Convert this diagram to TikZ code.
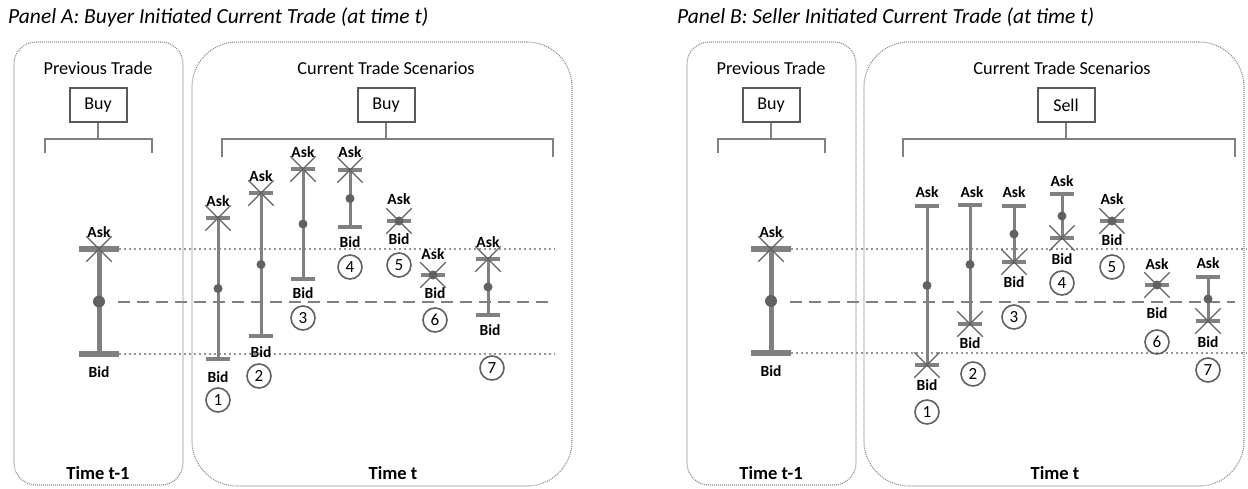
\documentclass[tikz,border=0pt]{standalone}
\usepackage{fontspec}
\setmainfont{Carlito}
\usetikzlibrary{shapes.misc, backgrounds}

\begin{document}
\begin{tikzpicture}[x=1pt, y=-1pt,
    ttl/.style     ={anchor=west, inner sep=0, font=\itshape\fontsize{21.5}{25}\selectfont},
    head/.style    ={inner sep=0, font=\fontsize{18.3}{21}\selectfont},
    timelbl/.style ={inner sep=0, font=\bfseries\fontsize{18.5}{22}\selectfont},
    panel/.style   ={draw=black!45, dash pattern=on 1pt off 1pt, line width=1.1pt,
                     rounded corners=22pt, inner sep=0},
    tradebox/.style={draw=black!65, line width=2pt, minimum width=57, minimum height=34,
                     inner sep=0, font=\fontsize{18}{21}\selectfont},
    brk/.style     ={draw=black!50, line width=2.5pt},
    tick/.style    ={rectangle, fill=black!50, minimum width=24, minimum height=4, inner sep=0},
    ptick/.style   ={tick, minimum width=40, minimum height=5.5},
    bar/.style     ={draw=black!50, line width=3pt},
    pbar/.style    ={bar, line width=5pt},
    dot/.style     ={circle, fill=black!62, minimum size=9, inner sep=0},
    pdot/.style    ={dot, minimum size=12},
    xmark/.style   ={cross out, draw=black!62, line width=1.3pt, minimum size=24, inner sep=0},
    lbl/.style     ={inner sep=0, font=\bfseries\fontsize{15.5}{18}\selectfont},
    num/.style     ={circle, draw=black!62, line width=1.6pt, minimum size=24, inner sep=0,
                     font=\fontsize{17}{20}\selectfont},
    level/.style   ={draw=black!42, line width=2pt, dash pattern=on 2pt off 3pt},
    mid/.style     ={draw=black!50, line width=2.5pt, dash pattern=on 12pt off 7pt}
]
\useasboundingbox (0,0) rectangle (1248,489);

%% ── Panel A: frames and headings ─────────────────────────────────
\node[ttl] (atitle) at (8,17) {Panel A: Buyer Initiated Current Trade (at time t)};
\node[panel, minimum width=169, minimum height=443] (aprev) at (98.5,263.5) {};
\node[panel, rounded corners=45pt, minimum width=380, minimum height=444] (acur) at (382,264) {};

\node[head]     (aprevhd)  at (98,68)   {Previous Trade};
\node[tradebox] (aprevbuy) at (98,105)  {Buy};
\node[timelbl]  (aprevtm)  at (98,473)  {Time t-1};
\coordinate (aprevL) at (45,153);
\coordinate (aprevR) at (152,153);
\draw[brk] (aprevbuy.south) -- ++(0,17);
\draw[brk] (aprevL) -- ++(0,-14) -| (aprevR);

\node[head]     (acurhd)   at (386,68)  {Current Trade Scenarios};
\node[tradebox] (acurbuy)  at (386,105) {Buy};
\node[timelbl]  (acurtm)   at (393,473) {Time t};
\coordinate (acurL) at (222,157);
\coordinate (acurR) at (553,157);
\draw[brk] (acurbuy.south) -- ++(0,17);
\draw[brk] (acurL) -- ++(0,-18) -| (acurR);

%% ── Panel A: previous quote ──────────────────────────────────────
\node[ptick] (aphi) at (99,249) {};
\node[ptick] (aplo) at (99,354) {};
\draw[pbar] (aphi) -- node[pdot] (apdot) {} (aplo);
\node[xmark] (apx)   at (aphi)     {};
\node[lbl]   (apask) at (99,232)   {Ask};
\node[lbl]   (apbid) at (99,372)   {Bid};

%% ── Panel A: scenarios 1-7 ───────────────────────────────────────
\node[tick] (a1hi) at (218,218) {};
\node[tick] (a1lo) at (218,359) {};
\draw[bar] (a1hi) -- node[dot] (a1dot) {} (a1lo);
\node[xmark] (a1x) at (a1hi) {};
\node[lbl] (a1ask) at (218,201) {Ask};
\node[lbl] (a1bid) at (218,377) {Bid};
\node[num] (a1n)   at (218,400) {1};

\node[tick] (a2hi) at (261,193) {};
\node[tick] (a2lo) at (261,336) {};
\draw[bar] (a2hi) -- node[dot] (a2dot) {} (a2lo);
\node[xmark] (a2x) at (a2hi) {};
\node[lbl] (a2ask) at (261,176) {Ask};
\node[lbl] (a2bid) at (261,352) {Bid};
\node[num] (a2n)   at (259,376) {2};

\node[tick] (a3hi) at (303,169) {};
\node[tick] (a3lo) at (303,279) {};
\draw[bar] (a3hi) -- node[dot] (a3dot) {} (a3lo);
\node[xmark] (a3x) at (a3hi) {};
\node[lbl] (a3ask) at (303,152) {Ask};
\node[lbl] (a3bid) at (303,293) {Bid};
\node[num] (a3n)   at (303,318) {3};

\node[tick] (a4hi) at (350,170) {};
\node[tick] (a4lo) at (350,227) {};
\draw[bar] (a4hi) -- node[dot] (a4dot) {} (a4lo);
\node[xmark] (a4x) at (a4hi) {};
\node[lbl] (a4ask) at (350,152) {Ask};
\node[lbl] (a4bid) at (350,242) {Bid};
\node[num] (a4n)   at (350,267) {4};

\node[tick] (a5hi) at (399,221) {};
\node[xmark] (a5x) at (a5hi) {};
\node[dot] (a5dot) at (a5hi) {};
\node[lbl] (a5ask) at (399,199) {Ask};
\node[lbl] (a5bid) at (399,239) {Bid};
\node[num] (a5n)   at (399,265) {5};

\node[tick] (a6hi) at (433,275) {};
\node[xmark] (a6x) at (a6hi) {};
\node[dot] (a6dot) at (a6hi) {};
\node[lbl] (a6ask) at (433,254) {Ask};
\node[lbl] (a6bid) at (435,293) {Bid};
\node[num] (a6n)   at (435,320) {6};

\node[tick] (a7hi) at (488,259) {};
\node[tick] (a7lo) at (488,315) {};
\draw[bar] (a7hi) -- node[dot] (a7dot) {} (a7lo);
\node[xmark] (a7x) at (a7hi) {};
\node[lbl] (a7ask) at (488,242) {Ask};
\node[lbl] (a7bid) at (490,330) {Bid};
\node[num] (a7n)   at (492,368) {7};

%% ── Panel B: frames and headings ─────────────────────────────────
\node[ttl] (btitle) at (677,17) {Panel B: Seller Initiated Current Trade (at time t)};
\node[panel, minimum width=169, minimum height=443] (bprev) at (771.5,263.5) {};
\node[panel, rounded corners=45pt, minimum width=380, minimum height=444] (bcur) at (1054,264) {};

\node[head]     (bprevhd)  at (771,68)   {Previous Trade};
\node[tradebox] (bprevbuy) at (771,105)  {Buy};
\node[timelbl]  (bprevtm)  at (771,473)  {Time t-1};
\coordinate (bprevL) at (718,153);
\coordinate (bprevR) at (825,153);
\draw[brk] (bprevbuy.south) -- ++(0,17);
\draw[brk] (bprevL) -- ++(0,-14) -| (bprevR);

\node[head]     (bcurhd)   at (1062,68)  {Current Trade Scenarios};
\node[tradebox] (bcursell) at (1066,105) {Sell};
\node[timelbl]  (bcurtm)   at (1055,473) {Time t};
\coordinate (bcurL) at (903,157);
\coordinate (bcurR) at (1235,157);
\draw[brk] (bcursell.south) -- ++(0,17);
\draw[brk] (bcurL) -- ++(0,-18) -| (bcurR);

%% ── Panel B: previous quote ──────────────────────────────────────
\node[ptick] (bphi) at (771,249) {};
\node[ptick] (bplo) at (771,353) {};
\draw[pbar] (bphi) -- node[pdot] (bpdot) {} (bplo);
\node[xmark] (bpx)   at (bphi)     {};
\node[lbl]   (bpask) at (771,232)  {Ask};
\node[lbl]   (bpbid) at (771,371)  {Bid};

%% ── Panel B: scenarios 1-7 ───────────────────────────────────────
\node[tick] (b1hi) at (927,206) {};
\node[tick] (b1lo) at (927,365) {};
\draw[bar] (b1hi) -- node[dot] (b1dot) {} (b1lo);
\node[xmark] (b1x) at (b1lo) {};
\node[lbl] (b1ask) at (927,192) {Ask};
\node[lbl] (b1bid) at (927,385) {Bid};
\node[num] (b1n)   at (927,412) {1};

\node[tick] (b2hi) at (970,205) {};
\node[tick] (b2lo) at (970,324) {};
\draw[bar] (b2hi) -- node[dot] (b2dot) {} (b2lo);
\node[xmark] (b2x) at (b2lo) {};
\node[lbl] (b2ask) at (972,192) {Ask};
\node[lbl] (b2bid) at (970,343) {Bid};
\node[num] (b2n)   at (973,374) {2};

\node[tick] (b3hi) at (1014,206) {};
\node[tick] (b3lo) at (1014,262) {};
\draw[bar] (b3hi) -- node[dot] (b3dot) {} (b3lo);
\node[xmark] (b3x) at (b3lo) {};
\node[lbl] (b3ask) at (1014,192) {Ask};
\node[lbl] (b3bid) at (1014,282) {Bid};
\node[num] (b3n)   at (1014,317) {3};

\node[tick] (b4hi) at (1062,194) {};
\node[tick] (b4lo) at (1062,238) {};
\draw[bar] (b4hi) -- node[dot] (b4dot) {} (b4lo);
\node[xmark] (b4x) at (b4lo) {};
\node[lbl] (b4ask) at (1062,181) {Ask};
\node[lbl] (b4bid) at (1062,259) {Bid};
\node[num] (b4n)   at (1062,283) {4};

\node[tick] (b5hi) at (1112,221) {};
\node[xmark] (b5x) at (b5hi) {};
\node[dot] (b5dot) at (b5hi) {};
\node[lbl] (b5ask) at (1112,199) {Ask};
\node[lbl] (b5bid) at (1112,240) {Bid};
\node[num] (b5n)   at (1112,267) {5};

\node[tick] (b6hi) at (1157,285) {};
\node[xmark] (b6x) at (b6hi) {};
\node[dot] (b6dot) at (b6hi) {};
\node[lbl] (b6ask) at (1157,264) {Ask};
\node[lbl] (b6bid) at (1157,313) {Bid};
\node[num] (b6n)   at (1157,342) {6};

\node[tick] (b7hi) at (1208,277) {};
\node[tick] (b7lo) at (1208,321) {};
\draw[bar] (b7hi) -- node[dot] (b7dot) {} (b7lo);
\node[xmark] (b7x) at (b7lo) {};
\node[lbl] (b7ask) at (1208,263) {Ask};
\node[lbl] (b7bid) at (1208,342) {Bid};
\node[num] (b7n)   at (1208,370) {7};

%% ── Price levels carried over from t-1 ───────────────────────────
\coordinate (ahiR)  at (555,249);
\coordinate (aloR)  at (555,354);
\coordinate (amidL) at (118,302);
\coordinate (amidR) at (553,302);
\coordinate (bhiR)  at (1247,249);
\coordinate (bloR)  at (1247,353);
\coordinate (bmidL) at (790,302);
\coordinate (bmidR) at (1235,302);
\begin{scope}[on background layer]
    \draw[level] (aphi.east) -- (ahiR);
    \draw[level] (aplo.east) -- (aloR);
    \draw[mid]   (amidL) -- (amidR);
    \draw[level] (bphi.east) -- (bhiR);
    \draw[level] (bplo.east) -- (bloR);
    \draw[mid]   (bmidL) -- (bmidR);
\end{scope}

\end{tikzpicture}
\end{document}
